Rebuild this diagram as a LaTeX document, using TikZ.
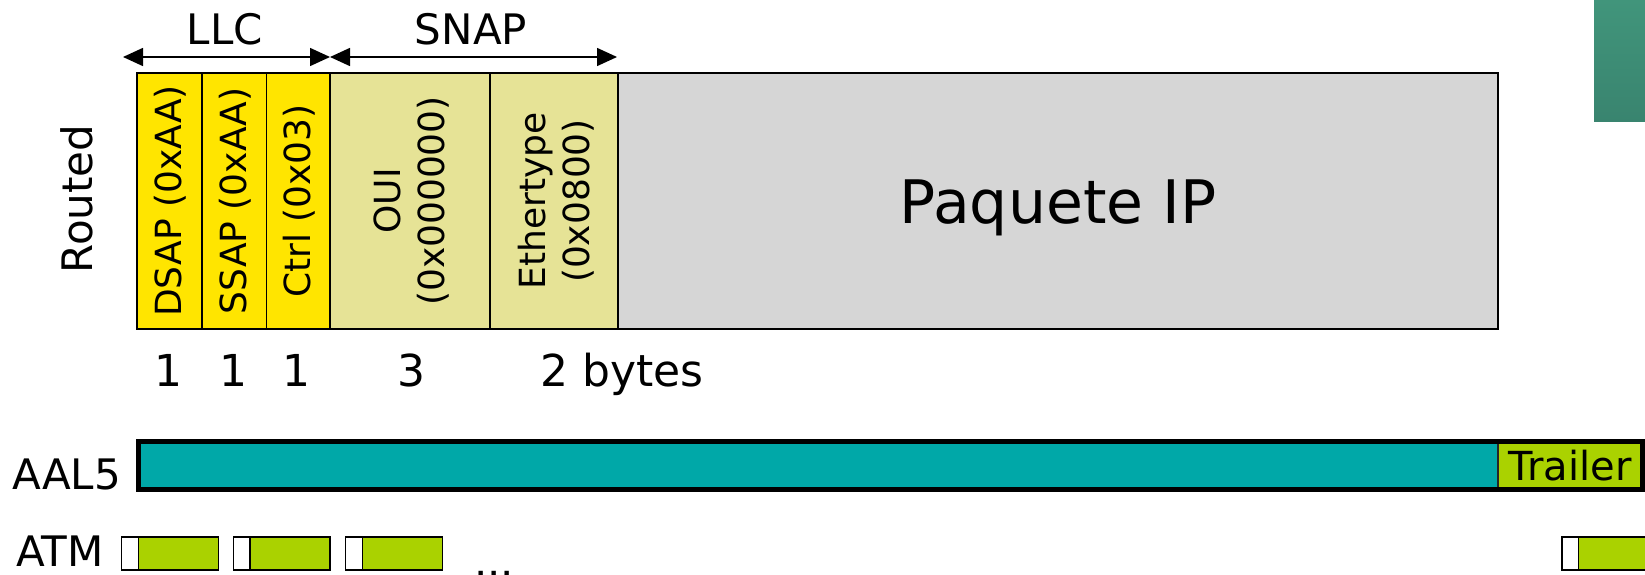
\documentclass[tikz,border=0pt]{standalone}
\usepackage{fontspec}
\setmainfont{DejaVu Sans}
\usetikzlibrary{arrows.meta}
\definecolor{llcyellow}{HTML}{FFE500}
\definecolor{snapkhaki}{HTML}{E6E396}
\definecolor{ipgray}{HTML}{D6D6D6}
\definecolor{aalteal}{HTML}{00A8A8}
\definecolor{cellgreen}{HTML}{AAD200}
\definecolor{cornertop}{HTML}{41957B}
\definecolor{cornerbot}{HTML}{39846F}
\tikzset{
  field/.style={draw=black, line width=1.5pt, minimum height=256, inner sep=0pt, outer sep=0pt, anchor=north west},
  vlabel/.style={rotate=90, font=\fontsize{36}{44}\selectfont, align=center, inner sep=0pt},
  biglabel/.style={font=\fontsize{42}{50}\selectfont, inner sep=0pt},
  numlabel/.style={font=\fontsize{44}{52}\selectfont, inner sep=0pt, anchor=base},
  dimarrow/.style={line width=1.5pt, {Triangle[length=20pt,width=18pt]}-{Triangle[length=20pt,width=18pt]}},
  hdr/.style={draw=black, line width=1.5pt, fill=white, minimum width=16.6, minimum height=33, inner sep=0pt, outer sep=0pt, anchor=north west},
  payload/.style={draw=black, line width=1.5pt, fill=cellgreen, minimum width=80, minimum height=33, inner sep=0pt, outer sep=0pt, anchor=north west},
}
\begin{document}
\begin{tikzpicture}[x=1pt,y=-1pt]
\useasboundingbox (0,0) rectangle (1645,575);
\fill[white] (0,0) rectangle (1645,575);

% corner decoration
\node[anchor=north west, minimum width=60, minimum height=122, inner sep=0pt, outer sep=0pt,
      top color=cornertop, bottom color=cornerbot] (corner) at (1594,0) {};

% header fields
\node[field, fill=llcyellow, minimum width=65] (dsap) at (137,73) {};
\node[field, fill=llcyellow, minimum width=64.5] (ssap) at (dsap.north east) {};
\node[field, fill=llcyellow, minimum width=63.5] (ctrl) at (ssap.north east) {};
\node[field, fill=snapkhaki, minimum width=160] (oui) at (ctrl.north east) {};
\node[field, fill=snapkhaki, minimum width=128] (eth) at (oui.north east) {};
\node[field, fill=ipgray, minimum width=880] (ip) at (eth.north east) {};

\node[vlabel] (dsapt) at ([xshift=1]dsap.center) {DSAP (0xAA)};
\node[vlabel] (ssapt) at ([xshift=1]ssap.center) {SSAP (0xAA)};
\node[vlabel] (ctrlt) at ([xshift=1]ctrl.center) {Ctrl (0x03)};
\node[vlabel] (ouit) at ([xshift=2]oui.center) {OUI\\(0x000000)};
\node[vlabel] (etht) at ([xshift=2]eth.center) {Ethertype\\(0x0800)};
\node[font=\fontsize{60}{70}\selectfont, inner sep=0pt, anchor=base] (ipt) at (1058,223) {Paquete IP};

\node[rotate=90, font=\fontsize{42}{50}\selectfont, inner sep=0pt] (routed) at (77,199) {Routed};

% dimension arrows
\coordinate (llcl) at (123,57);
\coordinate (llcr) at (330,57);
\coordinate (snapr) at (617,57);
\draw[dimarrow] (llcl) -- (llcr);
\draw[dimarrow] (llcr) -- (snapr);
\node[biglabel, anchor=base] (llct) at (225,45) {LLC};
\node[biglabel, anchor=base] (snapt) at (471,45) {SNAP};

% byte counts
\node[numlabel] (n1) at (168,386) {1};
\node[numlabel] (n2) at (233,386) {1};
\node[numlabel] (n3) at (296,386) {1};
\node[numlabel] (n4) at (411,386) {3};
\node[numlabel, anchor=base west] (n5) at (540,386) {2 bytes};

% AAL5
\node[biglabel, anchor=base west] (aalt) at (12,489) {AAL5};
\node[anchor=north west, fill=aalteal, minimum width=1359.5, minimum height=48, inner sep=0pt, outer sep=0pt] (aal) at (138.5,441.5) {};
\node[anchor=north west, fill=cellgreen, minimum width=144.5, minimum height=48, inner sep=0pt, outer sep=0pt,
      font=\fontsize{40}{48}\selectfont] (trailer) at (aal.north east) {Trailer};
\draw[line width=2pt, black!85] (aal.north east) -- (aal.south east);
\draw[line width=5pt] (aal.north west) rectangle (trailer.south east);

% ATM cells
\node[biglabel, anchor=base west] (atmt) at (16,566) {ATM};
\node[hdr] (h1) at (121.7,537) {};
\node[payload] (p1) at (h1.north east) {};
\node[hdr] (h2) at (233.3,537) {};
\node[payload] (p2) at (h2.north east) {};
\node[hdr] (h3) at (345.7,537) {};
\node[payload] (p3) at (h3.north east) {};
\node[hdr] (h4) at (1562,537) {};
\node[payload] (p4) at (h4.north east) {};
\node[biglabel, anchor=base west] (dots) at (474,576) {...};
\end{tikzpicture}
\end{document}
